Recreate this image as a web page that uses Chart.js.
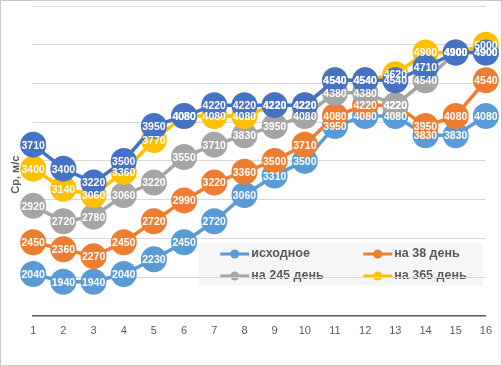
<!DOCTYPE html>
<html>
<head>
<meta charset="utf-8">
<script src="https://cdn.jsdelivr.net/npm/chart.js@4/dist/chart.umd.min.js"></script>
<style>
    body { margin: 0; background: #fff; }
    #wrap { width: 500px; height: 364px; border: 1px solid #c8c8c8; }
</style>
</head>
<body>
<div id="wrap"><canvas id="grafica" width="500" height="364"></canvas></div>
<script>
// Datos
var dias = ["1", "2", "3", "4", "5", "6", "7", "8", "9", "10", "11", "12", "13", "14", "15", "16"];
var nombres = ["исходное", "на 38 день", "на 245 день", "на 365 день", "ряд 5"];
var colores = ["#5B9BD5", "#ED7D31", "#A5A5A5", "#FFC000", "#4472C4"];
var enLeyenda = [true, true, true, true, false];

var serieInicial = [2040, 1940, 1940, 2040, 2230, 2450, 2720, 3060, 3310, 3500, 3950, 4080, 4080, 3830, 3830, 4080];
var serie38 = [2450, 2360, 2270, 2450, 2720, 2990, 3220, 3360, 3500, 3710, 4080, 4220, 4220, 3950, 4080, 4540];
var serie245 = [2920, 2720, 2780, 3060, 3220, 3550, 3710, 3830, 3950, 4080, 4380, 4380, 4220, 4540, 4900, 4900];
var serie365 = [3400, 3140, 3060, 3360, 3770, 4080, 4080, 4080, 4220, 4220, 4540, 4540, 4620, 4900, 4900, 5000];
var serie5 = [3710, 3400, 3220, 3500, 3950, 4080, 4220, 4220, 4220, 4220, 4540, 4540, 4540, 4710, 4900, 4900];
var series = [serieInicial, serie38, serie245, serie365, serie5];

var ejeMin = 1500, ejeMax = 5500, paso = 500;
var tituloY = "Ср, м/с";

// Etiquetas blancas sobre cada punto
var etiquetasValores = {
    id: "etiquetasValores",
    afterDatasetsDraw: function (chart) {
        var ctx = chart.ctx;
        ctx.save();
        ctx.font = 'bold 10.5px "Liberation Sans", Arial, sans-serif';
        ctx.fillStyle = "#ffffff";
        ctx.textAlign = "center";
        ctx.textBaseline = "middle";
        chart.data.datasets.forEach(function (ds, i) {
            chart.getDatasetMeta(i).data.forEach(function (p, j) {
                ctx.fillText(String(ds.data[j]), p.x, p.y + 1);
            });
        });
        ctx.restore();
    }
};

// Leyenda dentro del área del gráfico (debajo de la cuadrícula)
var leyendaInterna = {
    id: "leyendaInterna",
    beforeDraw: function (chart) {
        var ctx = chart.ctx;
        var a = chart.chartArea;
        var x0 = a.left + 165, y0 = a.top + 237;
        var w = a.right - 3 - x0, h = 43;
        ctx.save();
        ctx.fillStyle = "#f6f6f6";
        ctx.fillRect(x0, y0, w, h);
        ctx.font = 'bold 12.5px "Liberation Sans", Arial, sans-serif';
        ctx.textBaseline = "middle";
        var k = 0;
        chart.data.datasets.forEach(function (ds, i) {
            if (!enLeyenda[i]) return;
            var col = k % 2, fila = Math.floor(k / 2);
            var mx = x0 + 22 + col * 143;
            var my = y0 + 11 + fila * 22;
            ctx.strokeStyle = ds.borderColor;
            ctx.lineWidth = 3;
            ctx.beginPath();
            ctx.moveTo(mx, my);
            ctx.lineTo(mx + 29, my);
            ctx.stroke();
            ctx.fillStyle = ds.borderColor;
            ctx.beginPath();
            ctx.arc(mx + 14.5, my, 4.5, 0, Math.PI * 2);
            ctx.fill();
            ctx.fillStyle = "#595959";
            ctx.fillText(ds.label, mx + 31, my);
            k++;
        });
        ctx.restore();
    }
};

var ctx = document.getElementById("grafica").getContext("2d");
var chart = new Chart(ctx, {
    type: "line",
    data: {
        labels: dias,
        datasets: series.map(function (s, i) {
            return {
                label: nombres[i],
                data: s,
                borderColor: colores[i],
                backgroundColor: colores[i],
                pointBackgroundColor: colores[i],
                pointBorderWidth: 0,
                pointRadius: 13,
                pointHoverRadius: 13,
                borderWidth: 3.5,
                tension: 0,
                fill: false,
                clip: false,
                order: series.length - i // la última serie queda encima
            };
        })
    },
    options: {
        responsive: false,
        animation: false,
        events: [],
        layout: { autoPadding: false, padding: { left: 8, right: 13, top: 5, bottom: 18 } },
        plugins: {
            legend: { display: false },
            tooltip: { enabled: false }
        },
        scales: {
            x: {
                offset: false,
                grid: { display: false, drawTicks: false },
                border: { display: true, color: "#595959", width: 1.5 },
                ticks: {
                    color: "#595959",
                    font: { family: '"Liberation Sans", Arial, sans-serif', size: 11 },
                    padding: 9,
                    maxRotation: 0,
                    autoSkip: false
                }
            },
            y: {
                min: ejeMin,
                max: ejeMax,
                ticks: { stepSize: paso, display: false },
                grid: { color: "#d9d9d9", lineWidth: 1, drawTicks: false },
                border: { display: false },
                title: {
                    display: true,
                    text: tituloY + "\u00a0\u00a0\u00a0\u00a0\u00a0\u00a0\u00a0\u00a0\u00a0",
                    color: "#595959",
                    font: { family: '"Liberation Sans", Arial, sans-serif', size: 11, weight: "bold" },
                    padding: { top: 0, bottom: 11 }
                }
            }
        }
    },
    plugins: [leyendaInterna, etiquetasValores]
});
</script>
</body>
</html>
